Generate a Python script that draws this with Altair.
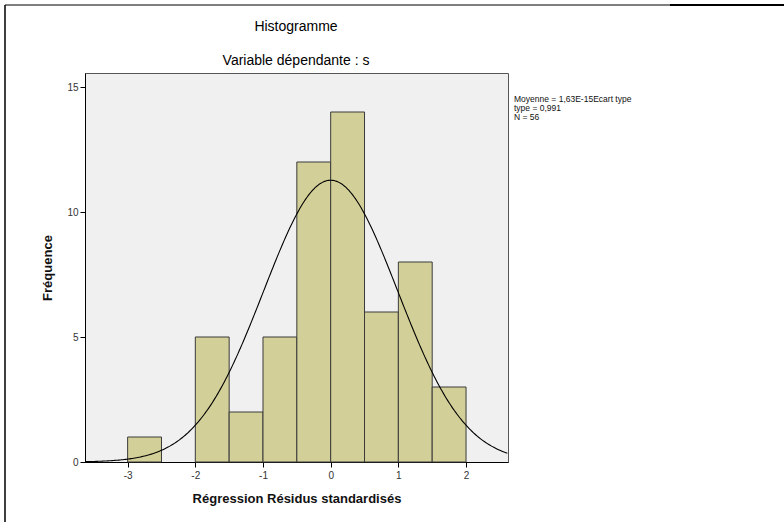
import altair as alt
import pandas as pd

# Histogram data (bin edges and counts)
bin_start = [-3.0, -2.5, -2.0, -1.5, -1.0, -0.5, 0.0, 0.5, 1.0, 1.5]
bin_end = [-2.5, -2.0, -1.5, -1.0, -0.5, 0.0, 0.5, 1.0, 1.5, 2.0]
counts = [1, 0, 5, 2, 5, 12, 14, 6, 8, 3]

# Fitted normal parameters shown in the legend
mean_val = 1.63e-15
sd_val = 0.991
n_val = 56
bin_width = 0.5

legend_lines = ["Moyenne = 1,63E-15Ecart type", "\u00a0type = 0,991", "N = 56"]
x_ticks = [-3, -2, -1, 0, 1, 2]
y_ticks = [0, 5, 10, 15]

X_DOMAIN = [-3.63, 2.62]
Y_DOMAIN = [0, 15.56]
FONT = "Liberation Sans"

hist_df = pd.DataFrame({"start": bin_start, "end": bin_end, "count": counts})
hist_df = hist_df[hist_df["count"] > 0]

xscale = alt.Scale(domain=X_DOMAIN, nice=False, zero=False)
yscale = alt.Scale(domain=Y_DOMAIN, nice=False)

bars = alt.Chart(hist_df).mark_rect(
    fill="#D3CF98", stroke="#3a3a3a", strokeWidth=1
).encode(
    x=alt.X("start:Q", scale=xscale,
            axis=alt.Axis(values=x_ticks, title="Régression Résidus standardisés",
                          labelExpr="toString(datum.value)")),
    x2="end:Q",
    y=alt.Y("count:Q", scale=yscale,
            axis=alt.Axis(values=y_ticks, title="Fréquence", labelExpr="toString(datum.value)")),
)

curve = alt.Chart(alt.sequence(X_DOMAIN[0], X_DOMAIN[1] + 0.01, 0.02, as_="x")).transform_calculate(
    dens=f"{n_val * bin_width} / ({sd_val} * sqrt(2 * PI)) * exp(-0.5 * pow((datum.x - {mean_val}) / {sd_val}, 2))"
).mark_line(color="black", strokeWidth=1.1, clip=True).encode(
    x=alt.X("x:Q", scale=xscale),
    y=alt.Y("dens:Q", scale=yscale),
)

title1 = alt.Chart(pd.DataFrame({"t": ["Histogramme"]})).mark_text(
    font=FONT, fontSize=14, fontWeight=500, color="#000", align="center", baseline="middle"
).encode(text="t:N", x=alt.value(211), y=alt.value(-46))

title2 = alt.Chart(pd.DataFrame({"t": ["Variable dépendante : s"]})).mark_text(
    font=FONT, fontSize=14, fontWeight=500, color="#000", align="center", baseline="middle"
).encode(text="t:N", x=alt.value(211), y=alt.value(-12))

legend = alt.Chart(pd.DataFrame({"t": ["\n".join(legend_lines)]})).mark_text(
    font=FONT, fontSize=8.5, color="#111", align="left", baseline="middle",
    lineBreak="\n", lineHeight=9
).encode(text="t:N", x=alt.value(429), y=alt.value(26))

frame_top = alt.Chart(pd.DataFrame({"a": [0]})).mark_rule(color="black", strokeWidth=1).encode(
    x=alt.value(-80), x2=alt.value(699), y=alt.value(-68)
)
frame_top2 = alt.Chart(pd.DataFrame({"a": [0]})).mark_rule(color="black", strokeWidth=2).encode(
    x=alt.value(585), x2=alt.value(699), y=alt.value(-68)
)
frame_left = alt.Chart(pd.DataFrame({"a": [0]})).mark_rule(color="black", strokeWidth=1.5).encode(
    x=alt.value(-80), y=alt.value(-68), y2=alt.value(449)
)

chart = alt.layer(bars, curve, title1, title2, legend, frame_top, frame_top2, frame_left).properties(
    width=423, height=389,
    autosize=alt.AutoSizeParams(type="none"),
    padding={"left": 85, "top": 73, "right": 276, "bottom": 60},
    background="white",
).configure_view(
    fill="#F0F0F0", stroke="#555555", strokeWidth=1
).configure_axis(
    grid=False,
    domainColor="black",
    tickColor="black",
    tickSize=5,
    labelFont=FONT,
    labelFontSize=10,
    labelColor="#333",
    titleFont=FONT,
    titleFontSize=13,
    titleFontWeight="bold",
    titleColor="#111",
).configure_axisX(
    labelPadding=3, titlePadding=12
).configure_axisY(
    labelPadding=2, titlePadding=12
)

chart.save("out.html", embed_options={"renderer": "svg", "actions": False})
